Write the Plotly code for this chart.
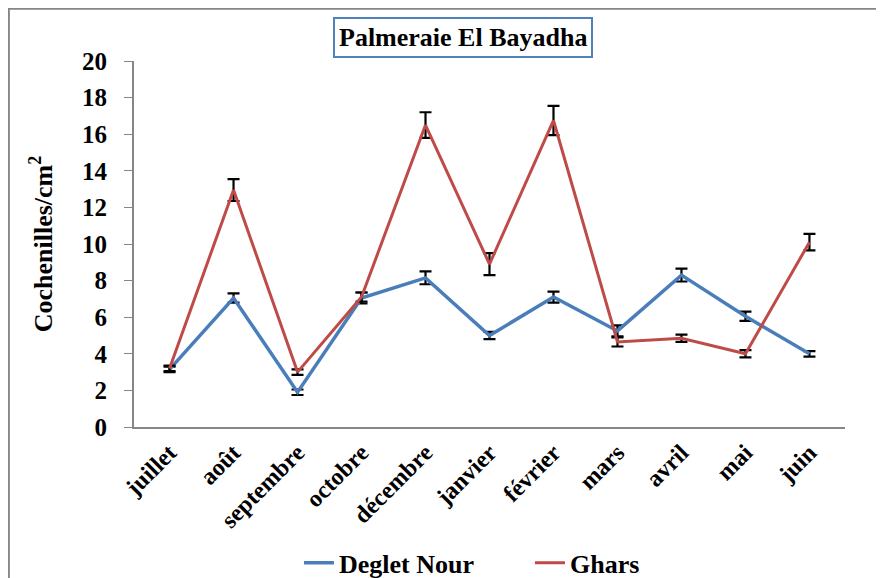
import plotly.graph_objects as go

months = ["juillet", "août", "septembre", "octobre", "décembre", "janvier",
          "février", "mars", "avril", "mai", "juin"]

deglet_nour = [3.15, 7.05, 1.9, 7.05, 8.15, 5.0, 7.1, 5.25, 8.3, 6.05, 4.0]
deglet_nour_err = [0.15, 0.25, 0.15, 0.3, 0.35, 0.2, 0.3, 0.3, 0.35, 0.25, 0.15]

ghars = [3.2, 12.95, 3.0, 7.1, 16.5, 8.9, 16.75, 4.65, 4.85, 4.0, 10.1]
ghars_err = [0.15, 0.6, 0.15, 0.25, 0.7, 0.6, 0.8, 0.25, 0.2, 0.2, 0.45]

y_ticks = list(range(0, 21, 2))

font_family = "Liberation Serif, Times New Roman, serif"


def err(values):
    return dict(type="data", array=values, color="black", thickness=2.2, width=6)


fig = go.Figure()

fig.add_trace(go.Scatter(x=months, y=deglet_nour, name="<b>Deglet Nour</b>", mode="lines",
                         line=dict(color="#4A7EBB", width=3.5),
                         error_y=err(deglet_nour_err)))
fig.add_trace(go.Scatter(x=months, y=ghars, name="<b>Ghars</b>", mode="lines",
                         line=dict(color="#BE4B48", width=3),
                         error_y=err(ghars_err)))

# the page body adds an 8px offset, so margins are shifted to compensate
fig.update_layout(
    width=884, height=578,
    margin=dict(l=126, r=47, t=53, b=159),
    paper_bgcolor="white", plot_bgcolor="white",
    font=dict(family=font_family, size=22, color="black"),
    showlegend=True,
    # container-referenced legend so it does not push the bottom margin
    legend=dict(orientation="h", xref="paper", x=0.232, xanchor="left",
                yref="container", y=0.04, yanchor="middle",
                font=dict(size=26, family=font_family, color="black"),
                entrywidth=186, entrywidthmode="pixels", tracegroupgap=0),
    xaxis=dict(type="category", showline=True, linecolor="#868686", linewidth=2,
               tickangle=-45, ticks="", showgrid=False, automargin=False,
               tickvals=months, ticktext=[f"<b>{m}</b>" for m in months],
               tickfont=dict(size=24, family=font_family)),
    yaxis=dict(range=[0, 20], showline=True, linecolor="#868686", linewidth=2,
               ticks="outside", ticklen=8, tickcolor="#868686", showgrid=False,
               zeroline=False, automargin=False, ticklabelstandoff=12,
               tickvals=y_ticks, ticktext=[f"<b>{v}</b>" for v in y_ticks],
               tickfont=dict(size=25, family=font_family),
               title=dict(text="<b>Cochenilles/cm<sup>2</sup></b>", standoff=22,
                          font=dict(size=26, family=font_family))),
    annotations=[dict(text="<b>Palmeraie El Bayadha</b>", xref="paper", yref="paper",
                      x=0.463, y=1.063, xanchor="center", yanchor="middle", showarrow=False,
                      font=dict(size=26, family=font_family, color="black"),
                      bordercolor="#4F81BD", borderwidth=2, borderpad=4,
                      bgcolor="white")],
    shapes=[dict(type="rect", xref="paper", yref="paper",
                 x0=-0.176, x1=1.2, y0=-0.6, y1=1.143,
                 line=dict(color="#868686", width=2), layer="below")],
)

fig.write_html("out.html")
